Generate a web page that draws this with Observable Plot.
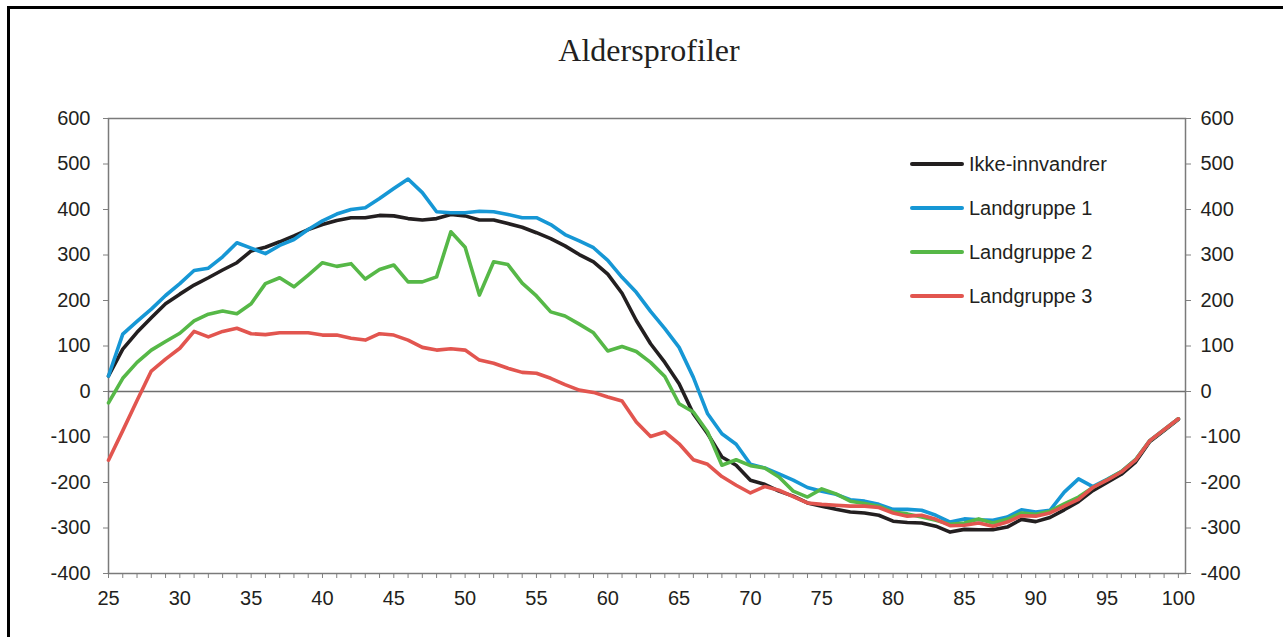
<!DOCTYPE html>
<html>
<head>
<meta charset="utf-8">
<script src="https://cdn.jsdelivr.net/npm/d3@7"></script>
<script src="https://cdn.jsdelivr.net/npm/@observablehq/plot@0.6"></script>
<style>
  html, body { margin: 0; padding: 0; background: #fff; }
  #wrap { position: relative; width: 1283px; height: 637px; overflow: hidden; }
  #border { position: absolute; left: 7px; top: 6px; width: 1300px; height: 700px;
            border-top: 3px solid #000; border-left: 3px solid #000; box-sizing: border-box; }
  #titlebox { position: relative; height: 90px; }
  #title { position: absolute; left: 0; width: 1298px; top: 34px; text-align: center;
           font-family: "Liberation Serif", "Times New Roman", serif; font-size: 32px; line-height: 32px; color: #231f20; }
  #legend { position: absolute; left: 910px; top: 142px; font-family: "Liberation Sans", Arial, sans-serif;
            font-size: 20px; color: #231f20; }
  .item { display: flex; align-items: center; height: 44px; }
  .sw { width: 54px; height: 4px; border-radius: 2px; margin-right: 5px; }
  #chart { position: relative; }
</style>
</head>
<body>
<div id="wrap">
  <div id="border"></div>
  <div id="titlebox"><div id="title">Aldersprofiler</div></div>
  <div id="chart"></div>
  <div id="legend"></div>
</div>
<script>
const ages = [25,26,27,28,29,30,31,32,33,34,35,36,37,38,39,40,41,42,43,44,45,46,47,48,49,50,
  51,52,53,54,55,56,57,58,59,60,61,62,63,64,65,66,67,68,69,70,71,72,73,74,75,
  76,77,78,79,80,81,82,83,84,85,86,87,88,89,90,91,92,93,94,95,96,97,98,99,100];
const xTickLabels = [25,30,35,40,45,50,55,60,65,70,75,80,85,90,95,100];
const yTicks = [-400,-300,-200,-100,0,100,200,300,400,500,600];

const seriesNames = ["Ikke-innvandrer", "Landgruppe 1", "Landgruppe 2", "Landgruppe 3"];
const seriesColors = ["#231f20", "#1697d5", "#56b847", "#e2554f"];

const ikkeInnvandrer = [34,93,130,162,193,214,234,250,267,283,309,317,329,342,356,367,376,382,382,387,386,380,377,380,389,386,
  377,377,369,361,349,336,320,301,285,258,216,156,105,64,17,-49,-93,-144,-162,-195,-204,-219,-230,-245,-252,
  -259,-265,-267,-272,-285,-288,-289,-296,-309,-303,-304,-304,-298,-281,-286,-277,-260,-242,-218,-200,-182,-155,-110,-86,-61];
const landgruppe1 = [34,126,154,181,211,237,266,271,296,327,315,303,321,334,356,375,390,400,404,424,446,467,437,395,393,393,
  396,395,389,382,382,367,345,331,316,288,251,218,176,138,97,31,-49,-93,-116,-160,-168,-181,-195,-211,-219,
  -226,-238,-241,-248,-259,-259,-261,-272,-287,-280,-282,-283,-276,-260,-265,-261,-221,-192,-209,-193,-176,-150,-108,-84,-60];
const landgruppe2 = [-25,29,64,91,110,128,155,170,177,171,193,237,250,230,256,283,275,281,247,268,278,241,241,252,351,317,
  212,285,279,238,210,175,166,148,129,89,99,88,64,33,-27,-45,-89,-162,-150,-163,-168,-188,-219,-232,-214,
  -225,-241,-246,-252,-265,-269,-276,-283,-292,-289,-280,-289,-281,-267,-270,-263,-247,-232,-211,-194,-176,-150,-108,-84,-60];
const landgruppe3 = [-151,-86,-20,45,71,95,132,120,132,139,127,125,129,129,129,124,124,117,113,127,124,113,97,91,94,91,
  69,62,51,42,40,29,15,3,-2,-12,-21,-67,-99,-89,-115,-150,-160,-187,-206,-223,-209,-217,-231,-245,-248,
  -250,-252,-252,-255,-267,-274,-272,-281,-295,-294,-289,-296,-287,-273,-274,-267,-252,-237,-211,-195,-177,-151,-108,-84,-60];

const seriesValues = [ikkeInnvandrer, landgruppe1, landgruppe2, landgruppe3];
const data = seriesNames.flatMap((name, s) => ages.map((age, i) => ({age, value: seriesValues[s][i], series: name})));

const fontFamily = '"Liberation Sans", Arial, Helvetica, sans-serif';

const chart = Plot.plot({
  width: 1283,
  height: 547,
  marginLeft: 108,
  marginRight: 98,
  marginTop: 28,
  marginBottom: 64,
  style: {fontFamily, fontSize: "20px", color: "#231f20", background: "transparent", overflow: "visible"},
  x: {domain: [25, 100.5], axis: null, label: null},
  y: {domain: [-400, 600], axis: null, label: null},
  color: {domain: seriesNames, range: seriesColors},
  marks: [
    Plot.axisY(yTicks, {anchor: "left", label: null, tickSize: 5, tickPadding: 13, tickFormat: d => String(d),
      stroke: "#808080", fill: "#231f20", fontSize: 20}),
    Plot.axisY(yTicks, {anchor: "right", label: null, tickSize: 5, tickPadding: 10, tickFormat: d => String(d),
      stroke: "#808080", fill: "#231f20", fontSize: 20}),
    Plot.axisX(ages, {anchor: "bottom", label: null, tickSize: 5, tickPadding: 12,
      tickFormat: d => xTickLabels.includes(d) ? String(d) : "",
      stroke: "#808080", fill: "#231f20", fontSize: 20}),
    Plot.frame({stroke: "#7a7a7a", strokeWidth: 1.5}),
    Plot.ruleY([0], {stroke: "#6e6e6e", strokeWidth: 1.3}),
    Plot.line(data, {x: "age", y: "value", z: "series", stroke: "series", strokeWidth: 3.6,
      strokeLinejoin: "round", strokeLinecap: "round"})
  ]
});
document.getElementById("chart").appendChild(chart);

const legend = document.getElementById("legend");
seriesNames.forEach((name, i) => {
  const item = document.createElement("div");
  item.className = "item";
  const sw = document.createElement("div");
  sw.className = "sw";
  sw.style.background = seriesColors[i];
  const label = document.createElement("span");
  label.textContent = name;
  item.appendChild(sw);
  item.appendChild(label);
  legend.appendChild(item);
});
</script>
</body>
</html>
